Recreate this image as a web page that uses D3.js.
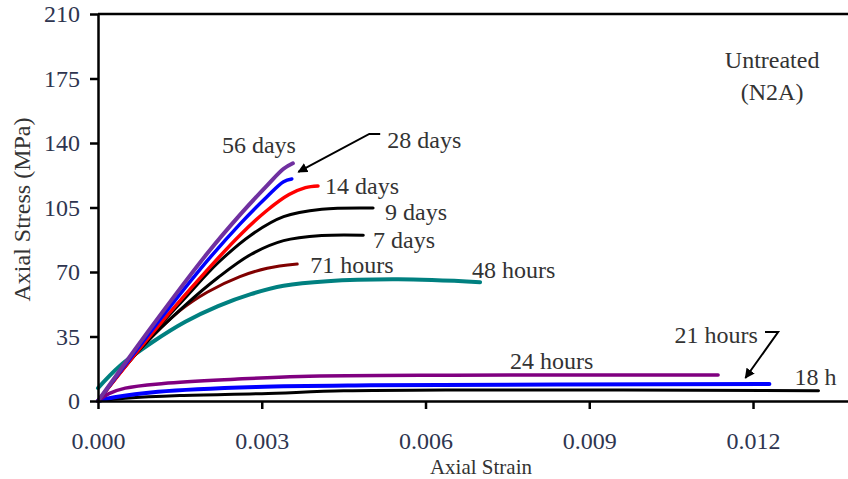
<!DOCTYPE html>
<html>
<head>
<meta charset="utf-8">
<script src="https://cdn.jsdelivr.net/npm/d3@7"></script>
<style>
	body { margin: 0; background: #fff; }
	svg { display: block; }
	text { font-family: "Liberation Serif", "Times New Roman", serif; }
</style>
</head>
<body>
<div id="chart"></div>
<script>
// Axis ticks
const strainTicks = [0, 0.003, 0.006, 0.009, 0.012];
const stressTicks = [0, 35, 70, 105, 140, 175, 210];

// Curves: [axial strain, axial stress MPa]
const days56 = [[0, 0], [0.0010, 41], [0.0020, 80], [0.0026, 101], [0.0031, 117], [0.0034, 126], [0.00357, 129]];
const days28 = [[0, 0], [0.0010, 39], [0.0020, 76], [0.0026, 96], [0.0031, 111], [0.0034, 119], [0.00355, 120.5]];
const days14 = [[0, 0], [0.0010, 37], [0.0020, 71], [0.0026, 90], [0.0031, 103.5], [0.0035, 112], [0.0038, 115.8], [0.00403, 116.7]];
const days9 = [[0, 0], [0.0008, 30], [0.0016, 56], [0.0022, 75], [0.0028, 90], [0.0034, 100], [0.0041, 104], [0.00504, 104.7]];
const days7 = [[0, 0], [0.0008, 29], [0.0016, 52], [0.0022, 67], [0.0028, 79.5], [0.0034, 87], [0.0041, 89.8], [0.00486, 90]];
const hours71 = [[0, 0], [0.0008, 29], [0.0015, 49], [0.0020, 59], [0.0026, 67.5], [0.0031, 72], [0.00365, 74.3]];
const hours48 = [[0, 7], [0.0004, 19], [0.0010, 32], [0.0016, 43], [0.0022, 51.5], [0.0028, 58], [0.0034, 62.5], [0.0042, 65], [0.0055, 66], [0.0070, 64.5]];
const hours24 = [[0, 0], [0.0002, 4], [0.0005, 7], [0.0012, 9.5], [0.0025, 11.8], [0.0037, 13.3], [0.0065, 14], [0.01136, 14.1]];
const hours21 = [[0, 0], [0.0003, 2], [0.0011, 5], [0.0029, 7.6], [0.005, 8.5], [0.0123, 9.2]];
const hours18 = [[0, 0], [0.0005, 1.5], [0.0015, 3], [0.003, 4], [0.0045, 5.5], [0.0065, 6], [0.0132, 5.6]];

// Labels and arrows, in data units
const labelTexts = ["56 days", "28 days", "14 days", "9 days", "7 days", "71 hours", "48 hours", "24 hours", "21 hours", "18 h"];
const labelAt = [[0.00227, 134.6], [0.00530, 137.3], [0.00416, 112.3], [0.00526, 98.2], [0.00504, 83.0], [0.00389, 69.5], [0.00685, 66.7], [0.00755, 17.4], [0.01056, 31.5], [0.01276, 8.7]];
const arrow28 = [[0.00517, 144.9], [0.00497, 144.9], [0.00367, 124.3]];
const arrow21 = [[0.01222, 37.4], [0.01246, 37.4], [0.01186, 12.5]];

// Drawing order, bottom to top
const series = [
	{ data: hours18, color: "#000000", w: 3 },
	{ data: hours21, color: "#0000ff", w: 4 },
	{ data: hours24, color: "#800080", w: 3.5 },
	{ data: hours48, color: "#008080", w: 4 },
	{ data: hours71, color: "#800000", w: 3 },
	{ data: days7, color: "#000000", w: 3 },
	{ data: days9, color: "#000000", w: 3 },
	{ data: days14, color: "#ff0000", w: 3.5 },
	{ data: days28, color: "#0000ff", w: 3.5 },
	{ data: days56, color: "#7030a0", w: 4 }
];

const width = 848, height = 479;
const margin = { left: 98, top: 14, bottom: 78 };

const x = d3.scaleLinear().domain([0, 0.01374]).range([margin.left, width]);
const y = d3.scaleLinear().domain([0, 210]).range([height - margin.bottom, margin.top]);

const svg = d3.select("#chart").append("svg")
	.attr("width", width)
	.attr("height", height);

svg.append("defs").append("marker")
	.attr("id", "head")
	.attr("viewBox", "0 0 10 10")
	.attr("refX", 9).attr("refY", 5)
	.attr("markerWidth", 5).attr("markerHeight", 5)
	.attr("orient", "auto")
	.append("path")
	.attr("d", "M0,0L10,5L0,10z")
	.attr("fill", "#000");

// Curves
const line = d3.line()
	.x(d => x(d[0]))
	.y(d => y(d[1]))
	.curve(d3.curveCatmullRom.alpha(0.5));

svg.append("g")
	.selectAll("path")
	.data(series)
	.join("path")
	.attr("d", d => line(d.data))
	.attr("fill", "none")
	.attr("stroke", d => d.color)
	.attr("stroke-width", d => d.w)
	.attr("stroke-linecap", "round");

// Axes
const xAxis = svg.append("g")
	.attr("transform", `translate(0,${y(0)})`)
	.call(d3.axisBottom(x).tickValues(strainTicks).tickFormat(d3.format(".3f")).tickSize(8).tickPadding(23).tickSizeOuter(0));

const yAxis = svg.append("g")
	.attr("transform", `translate(${x(0)},0)`)
	.call(d3.axisLeft(y).tickValues(stressTicks).tickSize(8).tickPadding(10).tickSizeOuter(0));

[xAxis, yAxis].forEach(g => {
	g.select(".domain").attr("stroke-width", 2.5);
	g.selectAll(".tick line").attr("stroke-width", 2.5);
	g.selectAll(".tick text")
		.style("font-family", "Liberation Serif")
		.style("font-size", "24px")
		.attr("fill", "#2e3550");
});

// Top border
svg.append("line")
	.attr("x1", x(0)).attr("x2", width)
	.attr("y1", y(210)).attr("y2", y(210))
	.attr("stroke", "#000")
	.attr("stroke-width", 2.5);

// Axis titles
svg.append("text")
	.attr("transform", `translate(30,${(y(0) + y(210)) / 2 + 2}) rotate(-90)`)
	.attr("text-anchor", "middle")
	.style("font-size", "24px")
	.attr("fill", "#333")
	.text("Axial Stress (MPa)");

svg.append("text")
	.attr("x", 481)
	.attr("y", 474)
	.attr("text-anchor", "middle")
	.style("font-size", "21px")
	.attr("fill", "#333")
	.text("Axial Strain");

// Curve labels
svg.append("g")
	.selectAll("text")
	.data(labelTexts)
	.join("text")
	.attr("x", (d, i) => x(labelAt[i][0]))
	.attr("y", (d, i) => y(labelAt[i][1]))
	.style("font-size", "24px")
	.attr("fill", "#333")
	.text(d => d);

// Arrows
const arrowLine = d3.line().x(d => x(d[0])).y(d => y(d[1]));
svg.append("g")
	.selectAll("path")
	.data([arrow28, arrow21])
	.join("path")
	.attr("d", arrowLine)
	.attr("fill", "none")
	.attr("stroke", "#000")
	.attr("stroke-width", 2)
	.attr("marker-end", "url(#head)");

// Specimen note
svg.append("text")
	.attr("x", x(0.01235))
	.attr("y", y(180.7))
	.attr("text-anchor", "middle")
	.style("font-size", "24px")
	.attr("fill", "#333")
	.text("Untreated");

svg.append("text")
	.attr("x", x(0.01235))
	.attr("y", y(163.3))
	.attr("text-anchor", "middle")
	.style("font-size", "24px")
	.attr("fill", "#333")
	.text("(N2A)");
</script>
</body>
</html>
